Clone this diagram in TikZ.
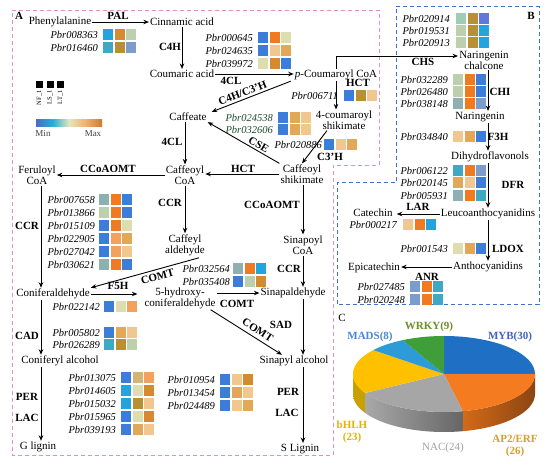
\documentclass[tikz,border=0pt]{standalone}
\usepackage{fontspec}
\setmainfont{Liberation Serif}
\usetikzlibrary{arrows.meta}
\definecolor{cB}{HTML}{3C7DD9}
\definecolor{cC}{HTML}{23A4DC}
\definecolor{cT}{HTML}{3FA9C4}
\definecolor{cGT}{HTML}{8EB0B2}
\definecolor{cGB}{HTML}{7C9CCB}
\definecolor{cPG}{HTML}{BCD0AE}
\definecolor{cMT}{HTML}{9CCDB6}
\definecolor{cPY}{HTML}{DEDDB0}
\definecolor{cLT}{HTML}{F0C78E}
\definecolor{cKH}{HTML}{D4B474}
\definecolor{cTN}{HTML}{E2A858}
\definecolor{cLO}{HTML}{F2A25C}
\definecolor{cO}{HTML}{F07A22}
\definecolor{cDO}{HTML}{D48A2E}
\definecolor{cOL}{HTML}{B88F34}
\definecolor{cV}{HTML}{5F78DA}
\definecolor{cDG}{HTML}{1E4A32}
\definecolor{pMYB}{HTML}{1F6FC5}
\definecolor{pAP}{HTML}{F47B20}
\definecolor{pNAC}{HTML}{A6A6A6}
\definecolor{pBH}{HTML}{FFC000}
\definecolor{pMA}{HTML}{2C9BD8}
\definecolor{pWR}{HTML}{3F9E3A}
\definecolor{apL}{HTML}{D26A18}
\definecolor{apR}{HTML}{8C4512}
\definecolor{nacL}{HTML}{A8A8A8}
\definecolor{nacR}{HTML}{666666}
\definecolor{bhS}{HTML}{C8A000}
\definecolor{lb1}{HTML}{4A6BC9}
\definecolor{lb2}{HTML}{1FB0D6}
\definecolor{lb3}{HTML}{E6E6BE}
\definecolor{lb4}{HTML}{F2B06C}
\definecolor{lb5}{HTML}{CF7A2C}
\definecolor{frApink}{HTML}{E38FBE}
\definecolor{frBblue}{HTML}{3F6FC6}
\definecolor{tMYB}{HTML}{4563BE}
\definecolor{tWR}{HTML}{6E8E2A}
\definecolor{tMA}{HTML}{4A86D6}
\definecolor{tBH}{HTML}{E3B400}
\definecolor{tNAC}{HTML}{A0A0A0}
\definecolor{tAP}{HTML}{D49E32}
\tikzset{
  cmp/.style={font=\fontsize{11}{11}\selectfont, inner sep=1pt, align=center},
  enz/.style={font=\fontsize{11}{11}\selectfont\bfseries, inner sep=0pt},
  gene/.style={font=\fontsize{10.5}{11}\selectfont\itshape, inner sep=0pt},
  arr/.style={line width=0.9pt, -{Stealth[length=5.5pt,width=4.5pt]}},
  frA/.style={draw=frApink, line width=0.9pt, dash pattern=on 4pt off 3pt},
  frB/.style={draw=frBblue, line width=1pt, dash pattern=on 4pt off 3pt},
  pielab/.style={font=\fontsize{11}{12}\selectfont\bfseries, inner sep=0pt, align=center},
}
\newcommand\gr[7]{%
  \node[gene,anchor=east] (p#1) at (#2,-#3) {Pbr#1};
  \fill[#5] (#4,-#3+5.5) rectangle ++(10,-11);
  \fill[#6] (#4+11.5,-#3+5.5) rectangle ++(10,-11);
  \fill[#7] (#4+23,-#3+5.5) rectangle ++(10,-11);
}
\newcommand\slice[3]{%
  \fill[#3] (pc) -- ([shift={(#1:91 and 38)}]pc) arc[start angle=#1, end angle=#2, x radius=91, y radius=38] -- cycle;
}
\newcommand\rim[4]{%
  \shade[left color=#3, right color=#4] ([shift={(#1:91 and 38)}]pc) arc[start angle=#1, end angle=#2, x radius=91, y radius=38] -- ++(0,-20) arc[start angle=#2, end angle=#1, x radius=91, y radius=38] -- cycle;
}
\begin{document}
\begin{tikzpicture}[x=1pt,y=1pt]
\useasboundingbox (0,0) rectangle (550,-468);
\fill[white] (0,0) rectangle (550,-468);

% frames
\draw[frA] (12,-10) -- (379,-10) -- (379,-165) -- (333,-165) -- (333,-455) -- (12,-455) -- cycle;
\draw[frB] (396,-7) -- (539,-7) -- (539,-305) -- (337,-305) -- (337,-183) -- (396,-183) -- cycle;
\node[font=\fontsize{11}{11}\selectfont\bfseries, inner sep=0pt] (labA) at (19,-16) {A};
\node[font=\fontsize{11}{11}\selectfont\bfseries, inner sep=0pt] (labB) at (531,-16) {B};
\node[font=\fontsize{11}{11}\selectfont, inner sep=0pt] (labC) at (342,-318) {C};

% lanes
\coordinate (lnG) at (41,0);
\coordinate (lnC) at (185,0);
\coordinate (lnS) at (303,0);
\coordinate (lnF) at (488,0);

% compounds
\node[cmp] (phe) at (60,-22) {Phenylalanine};
\node[cmp] (cin) at (182,-22) {Cinnamic acid};
\node[cmp] (cou) at (182,-74) {Coumaric acid};
\node[cmp] (pco) at (336,-75) {\textit{p}-Coumaroyl CoA};
\node[cmp] (caf) at (188,-117) {Caffeate};
\node[cmp] (cs4) at (344,-120) {4-coumaroyl\\shikimate};
\node[cmp] (csh) at (302,-174) {Caffeoyl\\shikimate};
\node[cmp] (cco) at (185,-175) {Caffeoyl\\CoA};
\node[cmp] (fer) at (37,-175) {Feruloyl\\CoA};
\node[cmp] (cald) at (185,-245) {Caffeyl\\aldehyde};
\node[cmp] (spc) at (303,-245) {Sinapoyl\\CoA};
\node[cmp] (con) at (53,-294) {Coniferaldehyde};
\node[cmp] (hyd) at (180,-298) {5-hydroxy-\\coniferaldehyde};
\node[cmp] (sap) at (293,-293) {Sinapaldehyde};
\node[cmp] (coa) at (60,-361) {Coniferyl alcohol};
\node[cmp] (sal) at (294,-361) {Sinapyl alcohol};
\node[cmp] (gl) at (38,-447) {G lignin};
\node[cmp] (sl) at (300,-449) {S Lignin};
\node[cmp] (nch) at (484,-60) {Naringenin\\chalcone};
\node[cmp] (nar) at (480,-117) {Naringenin};
\node[cmp] (dhf) at (490,-157) {Dihydroflavonols};
\node[cmp] (leu) at (488,-214) {Leucoanthocyanidins};
\node[cmp] (cat) at (373,-213) {Catechin};
\node[cmp] (ant) at (488,-267) {Anthocyanidins};
\node[cmp] (epi) at (374,-268) {Epicatechin};

% connectors
\draw[arr] (phe.east) -- (cin.west);
\draw[arr] (cin.south) -- (cou.north);
\draw[arr] (cou.east) -- (cou.east -| pco.west);
\draw[arr] ([xshift=-3pt]pco.south west) -- ([xshift=4pt]caf.north east);
\path ([xshift=4pt]caf.north east) -- ([xshift=-3pt]pco.south west) node[enz, sloped, above=2.5pt, pos=0.42] (eC4C3) {C4H/C3'H};
\draw[arr] (pco.north) |- ([yshift=4pt]nch.west);
\draw[arr] (pco.south) -- (pco.south |- cs4.north);
\draw[arr] ([xshift=-17pt]cs4.south) -- (csh.north);
\draw[arr] (csh.north west) -- (caf.south east);
\path (caf.south east) -- (csh.north west) node[enz, sloped, above=2pt, pos=0.67] (eCSE) {CSE};
\draw[arr] (csh.west) -- (csh.west -| cco.east);
\draw[arr] (cco.west) -- (cco.west -| fer.east);
\draw[arr] (caf.south -| lnC) -- (cco.north -| lnC);
\draw[arr] (cco.south) -- (cald.north);
\draw[arr] (fer.south -| lnG) -- (con.north -| lnG);
\draw[arr] ([xshift=-7pt,yshift=-1pt]cald.south east) -- (con.north east);
\path (con.north east) -- ([xshift=-7pt,yshift=-1pt]cald.south east) node[enz, sloped, below=3pt, pos=0.6] (eCOMT1) {COMT};
\draw[arr, shorten >=6pt] (con.east) -- (con.east -| hyd.west);
\draw[arr] (hyd.east |- sap) -- (sap.west);
\draw[arr] (csh.south -| lnS) -- (spc.north -| lnS);
\draw[arr] (spc.south -| lnS) -- (sap.north -| lnS);
\draw[arr] (sap.south -| lnS) -- (sal.north -| lnS);
\draw[arr] ([xshift=-6pt]hyd.south east) -- ([xshift=-12pt]sal.north);
\path ([xshift=-6pt]hyd.south east) -- ([xshift=-12pt]sal.north) node[enz, sloped, above=4pt, pos=0.6] (eCOMT3) {COMT};
\draw[arr] (con.south -| lnG) -- (coa.north -| lnG);
\draw[arr] (coa.south -| lnG) -- (gl.north -| lnG);
\draw[arr] (sal.south -| lnS) -- (sl.north -| lnS);
\draw[arr] (nch.south -| lnF) -- (nar.north -| lnF);
\draw[arr] (nar.south -| lnF) -- (dhf.north -| lnF);
\draw[arr] (dhf.south -| lnF) -- (leu.north -| lnF);
\draw[arr, shorten >=3pt] (leu.west) -- (leu.west -| cat.east);
\draw[arr] (leu.south -| lnF) -- (ant.north -| lnF);
\draw[arr] (ant.west) -- (ant.west -| epi.east);

% enzyme labels
\node[enz] (ePAL) at (118,-16) {PAL};
\node[enz] (eC4H) at (170,-47) {C4H};
\node[enz] (e4CLa) at (231,-81) {4CL};
\node[enz] (eHCTa) at (358,-83) {HCT};
\node[enz] (eCHS) at (423,-62) {CHS};
\node[enz] (eCHI) at (500,-92) {CHI};
\node[enz] (eF3H) at (498,-137) {F3H};
\node[enz] (eDFR) at (513,-185) {DFR};
\node[enz] (eLAR) at (418,-207) {LAR};
\node[enz] (eLDOX) at (508,-249) {LDOX};
\node[enz] (eANR) at (427,-277) {ANR};
\node[enz] (e4CLb) at (172,-142) {4CL};
\node[enz] (eC3H) at (330,-157) {C3'H};
\node[enz] (eHCTb) at (243,-169) {HCT};
\node[enz] (eCCo1) at (108,-169) {CCoAOMT};
\node[enz] (eCCo2) at (272,-205) {CCoAOMT};
\node[enz] (eCCR1) at (27,-226) {CCR};
\node[enz] (eCCR2) at (170,-203) {CCR};
\node[enz] (eCCR3) at (289,-269) {CCR};
\node[enz] (eF5H) at (118,-286) {F5H};
\node[enz] (eCOMT2) at (237,-304) {COMT};
\node[enz] (eSAD) at (281,-325) {SAD};
\node[enz] (eCAD) at (27,-336) {CAD};
\node[enz] (ePER1) at (27,-397) {PER};
\node[enz] (eLAC1) at (27,-418) {LAC};
\node[enz] (ePER2) at (288,-392) {PER};
\node[enz] (eLAC2) at (287,-413) {LAC};

% legend
\fill[black] (36,-81) rectangle ++(7,-7);
\fill[black] (46.5,-81) rectangle ++(7,-7);
\fill[black] (57,-81) rectangle ++(7,-7);
\node[font=\fontsize{6.5}{7}\selectfont, rotate=90, anchor=east, inner sep=0pt] (sNF) at (39.5,-90) {NF\_1};
\node[font=\fontsize{6.5}{7}\selectfont, rotate=90, anchor=east, inner sep=0pt] (sLS) at (50,-90) {LS\_1};
\node[font=\fontsize{6.5}{7}\selectfont, rotate=90, anchor=east, inner sep=0pt] (sLT) at (60.5,-90) {LT\_1};
\shade[left color=lb1, right color=lb2] (36,-120) rectangle (52.5,-127);
\shade[left color=lb2, right color=lb3] (52.5,-120) rectangle (69,-127);
\shade[left color=lb3, right color=lb4] (69,-120) rectangle (85.5,-127);
\shade[left color=lb4, right color=lb5] (85.5,-120) rectangle (102,-127);
\node[font=\fontsize{9}{9}\selectfont, inner sep=0pt, text=black!75] (lmin) at (43,-134) {Min};
\node[font=\fontsize{9}{9}\selectfont, inner sep=0pt, text=black!75] (lmax) at (93,-134) {Max};

% heatmaps
\gr{008363}{98}{35}{103}{cC}{cDO}{cPG}
\gr{016460}{98}{48}{103}{cT}{cOL}{cGB}
\gr{000645}{253}{38}{258}{cB}{cO}{cPY}
\gr{024635}{253}{51}{258}{cB}{cLT}{cTN}
\gr{039972}{253}{64}{258}{cPY}{cDO}{cB}
\gr{006711}{338}{96}{344}{cB}{cOL}{cLT}
\gr{020886}{322}{145}{324}{cB}{cLT}{cTN}
\begin{scope}[every node/.append style={text=cDG}]
\gr{024538}{273}{118}{278}{cB}{cTN}{cLT}
\gr{032606}{273}{130}{278}{cB}{cTN}{cLT}
\end{scope}
\gr{020914}{450}{19}{456}{cMT}{cOL}{cV}
\gr{019531}{450}{31}{456}{cPG}{cOL}{cC}
\gr{020913}{450}{43}{456}{cPG}{cOL}{cC}
\gr{032289}{448}{80}{453}{cPG}{cO}{cB}
\gr{026480}{448}{92}{453}{cPG}{cO}{cB}
\gr{038148}{448}{104}{453}{cGT}{cO}{cGB}
\gr{034840}{448}{137}{453}{cLT}{cTN}{cB}
\gr{006122}{448}{171}{453}{cT}{cO}{cGB}
\gr{020145}{448}{183}{453}{cTN}{cLT}{cB}
\gr{005931}{448}{196}{453}{cGT}{cO}{cT}
\gr{000217}{397}{225}{403}{cLT}{cO}{cC}
\gr{001543}{448}{249}{453}{cPY}{cTN}{cB}
\gr{027485}{405}{287}{410}{cGB}{cO}{cT}
\gr{020248}{405}{300}{410}{cGB}{cO}{cT}
\gr{007658}{95}{200}{99}{cGT}{cO}{cB}
\gr{013866}{95}{213}{99}{cPG}{cO}{cB}
\gr{015109}{95}{226}{99}{cB}{cO}{cPY}
\gr{022905}{95}{239}{99}{cB}{cLO}{cTN}
\gr{027042}{95}{252}{99}{cB}{cLO}{cLT}
\gr{030621}{95}{265}{99}{cGT}{cO}{cB}
\gr{032564}{230}{269}{233}{cGT}{cO}{cC}
\gr{035408}{230}{282}{233}{cB}{cPG}{cDO}
\gr{022142}{100}{307}{104}{cB}{cPY}{cLO}
\gr{005802}{100}{333}{104}{cB}{cTN}{cLT}
\gr{026289}{100}{345}{104}{cT}{cOL}{cPG}
\gr{013075}{116}{378}{121}{cB}{cKH}{cLO}
\gr{014605}{116}{391}{121}{cC}{cPY}{cDO}
\gr{015032}{116}{404}{121}{cC}{cOL}{cLT}
\gr{015965}{116}{417}{121}{cB}{cPY}{cDO}
\gr{039193}{116}{430}{121}{cB}{cTN}{cLT}
\gr{010954}{215}{380}{220}{cB}{cLT}{cDO}
\gr{013454}{215}{393}{220}{cB}{cTN}{cLT}
\gr{024489}{215}{406}{220}{cB}{cLT}{cTN}

% pie chart
\coordinate (pc) at (444,-374);
\rim{-150}{-180}{bhS}{bhS}
\rim{-78}{-150}{nacL}{nacR}
\rim{0}{-78}{apL}{apR}
\slice{90}{0}{pMYB}
\slice{0}{-78}{pAP}
\slice{-78}{-150}{pNAC}
\slice{-150}{-219}{pBH}
\slice{-219}{-243}{pMA}
\slice{-243}{-270}{pWR}
\node[pielab, text=tMYB] (lMYB) at (510,-337) {MYB(30)};
\node[pielab, text=tWR] (lWR) at (429,-327) {WRKY(9)};
\node[pielab, text=tMA] (lMA) at (370,-337) {MADS(8)};
\node[pielab, text=tBH] (lBH) at (352,-432) {bHLH\\(23)};
\node[pielab, text=tNAC, font=\fontsize{11}{12}\selectfont] (lNAC) at (443,-448) {NAC(24)};
\node[pielab, text=tAP] (lAP) at (515,-446) {AP2/ERF\\(26)};
\end{tikzpicture}
\end{document}
